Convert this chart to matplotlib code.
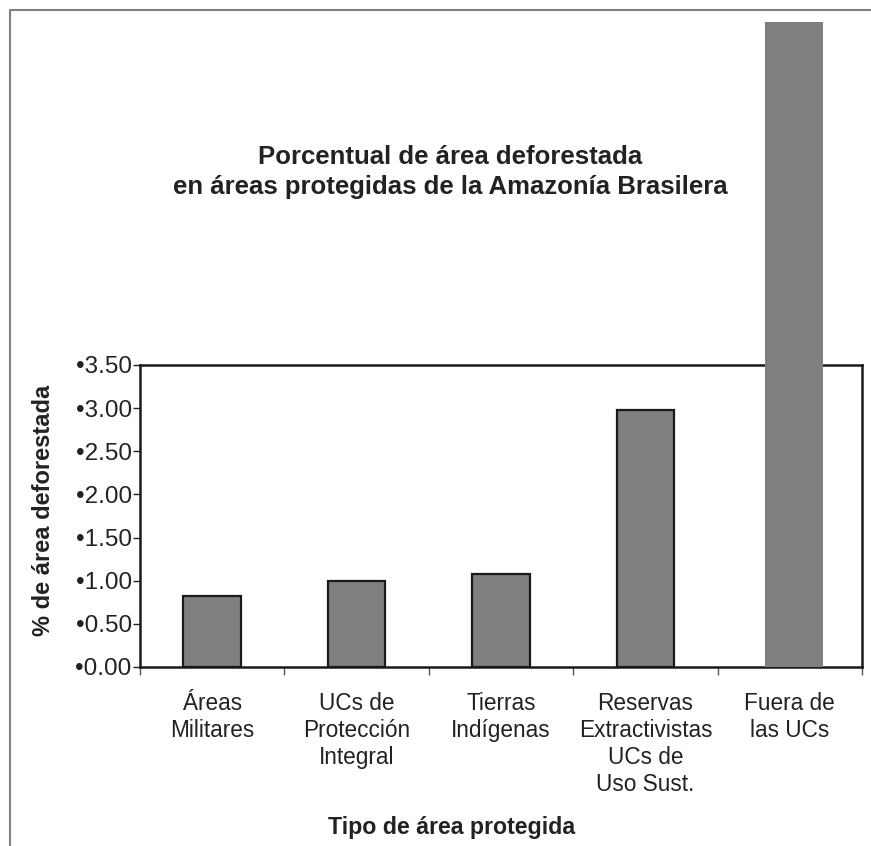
import matplotlib.pyplot as plt
import numpy as np
from matplotlib.lines import Line2D

plt.rcParams["font.family"] = ["Liberation Sans", "DejaVu Sans"]

categorias = [
    "Áreas\nMilitares",
    "UCs de\nProtección\nIntegral",
    "Tierras\nIndígenas",
    "Reservas\nExtractivistas\nUCs de\nUso Sust.",
    "Fuera de\nlas UCs",
]
porcentajes = [0.82, 1.00, 1.08, 2.98, 7.48]
ticks_y = [0.0, 0.5, 1.0, 1.5, 2.0, 2.5, 3.0, 3.5]

texto = "#222222"
gris_barra = "#7f7f82"

fig = plt.figure(figsize=(8.71, 8.46), dpi=100)
ax = fig.add_axes([0.1607, 0.2116, 0.829, 0.357])

x = np.arange(len(categorias))
# las cuatro primeras con borde, la ultima se sale del marco
ax.bar(x[:4], porcentajes[:4], width=0.4, color=gris_barra,
       edgecolor="#1a1a1a", linewidth=1.6, zorder=3)
ax.bar(x[4] + 0.03, porcentajes[4], width=0.4, color=gris_barra,
       edgecolor="none", clip_on=False, zorder=3)

ax.set_xlim(-0.5, len(categorias) - 0.5)
ax.set_ylim(0, 3.5)

ax.set_yticks(ticks_y)
ax.set_yticklabels([f"•{v:.2f}" for v in ticks_y], fontsize=17.5, color=texto)
ax.tick_params(axis="y", length=5, width=1, pad=1, colors=texto)

ax.set_xticks(x)
ax.set_xticklabels(categorias, fontsize=16.3, color=texto, va="top",
                   linespacing=1.22)
ax.tick_params(axis="x", which="major", length=0, pad=18)
ax.set_xticks(np.arange(-0.5, len(categorias)), minor=True)
ax.tick_params(axis="x", which="minor", length=6, width=1, color="#555555")

for s in ax.spines.values():
    s.set_linewidth(1.8)
    s.set_color("#1a1a1a")

ax.set_ylabel("% de área deforestada", fontsize=17, fontweight="bold",
              color=texto, va="center")
ax.yaxis.set_label_coords(-0.134, 0.52)

fig.text(0.518, 0.0213, "Tipo de área protegida", ha="center", va="center",
         fontsize=16.7, fontweight="bold", color=texto)

fig.text(0.5166, 0.797, "Porcentual de área deforestada\nen áreas protegidas de la Amazonía Brasilera",
         ha="center", va="center", fontsize=18.5, fontweight="bold",
         color=texto, linespacing=1.3)

# marco exterior
fig.add_artist(Line2D([0.0115, 0.0115, 1.0], [0.0, 0.9885, 0.9885],
                      transform=fig.transFigure, color="#808080", lw=1.5))

fig.savefig("out.png", dpi=100, facecolor="white")
